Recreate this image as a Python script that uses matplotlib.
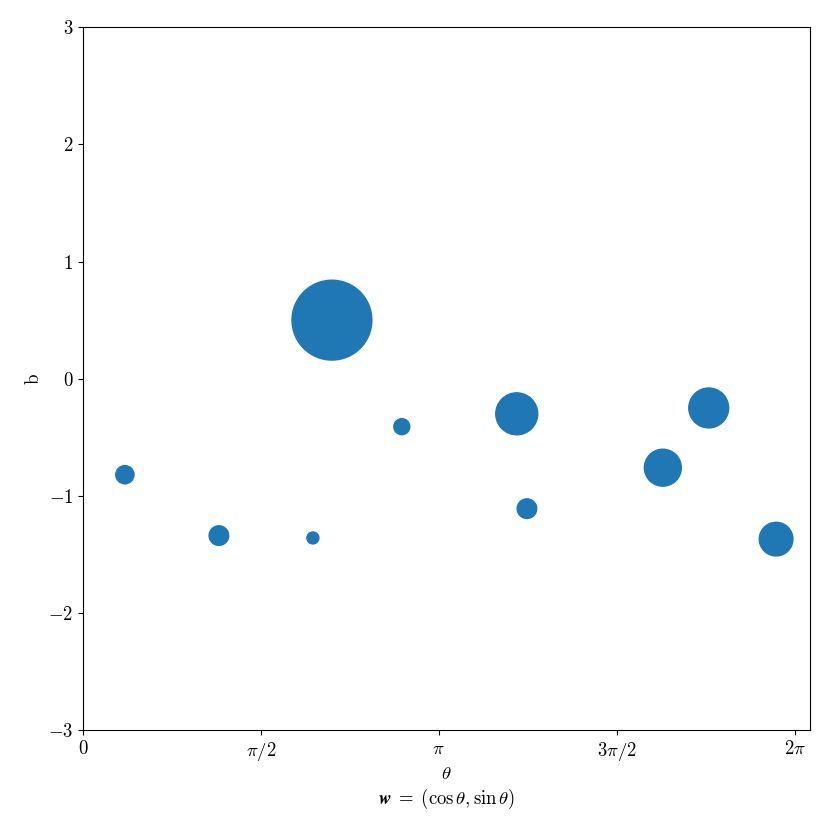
import numpy as np
import matplotlib
matplotlib.use("Agg")
import matplotlib.pyplot as plt

plt.rcParams["font.family"] = "serif"
plt.rcParams["font.serif"] = ["cmr10"]
plt.rcParams["mathtext.fontset"] = "cm"
plt.rcParams["axes.formatter.use_mathtext"] = True
plt.rcParams["font.size"] = 13.5

# angle theta, bias b, marker area
theta = [0.37, 1.20, 2.03, 2.198, 2.815, 3.83, 3.92, 5.12, 5.525, 6.12]
b = [-0.82, -1.34, -1.36, 0.50, -0.41, -0.30, -1.11, -0.76, -0.25, -1.37]
sizes = [172, 199, 74, 3306, 132, 912, 199, 708, 824, 586]

x_ticks = [0, np.pi / 2, np.pi, 3 * np.pi / 2, 2 * np.pi]
x_labels = ["$0$", r"$\pi/2$", r"$\pi$", r"$3\pi/2$", r"$2\pi$"]
y_ticks = [-3, -2, -1, 0, 1, 2, 3]

fig = plt.figure(figsize=(8.3, 8.3), dpi=100)
ax = fig.add_axes([0.1, 0.1205, 0.876, 0.8465])

ax.scatter(theta, b, s=sizes, color="#1f77b4")

ax.set_xlim(0, 6.42)
ax.set_ylim(-3, 3)
ax.set_xticks(x_ticks)
ax.set_xticklabels(x_labels)
ax.set_yticks(y_ticks)
ax.set_yticklabels(["$%d$" % v if v >= 0 else "$-%d$" % -v for v in y_ticks])

ax.set_xlabel("$\\theta$\n$\\boldsymbol{w} \\;=\\; (\\cos\\theta, \\sin\\theta)$",
              labelpad=2)
ax.set_ylabel("b")

fig.savefig("out.png", dpi=100)
